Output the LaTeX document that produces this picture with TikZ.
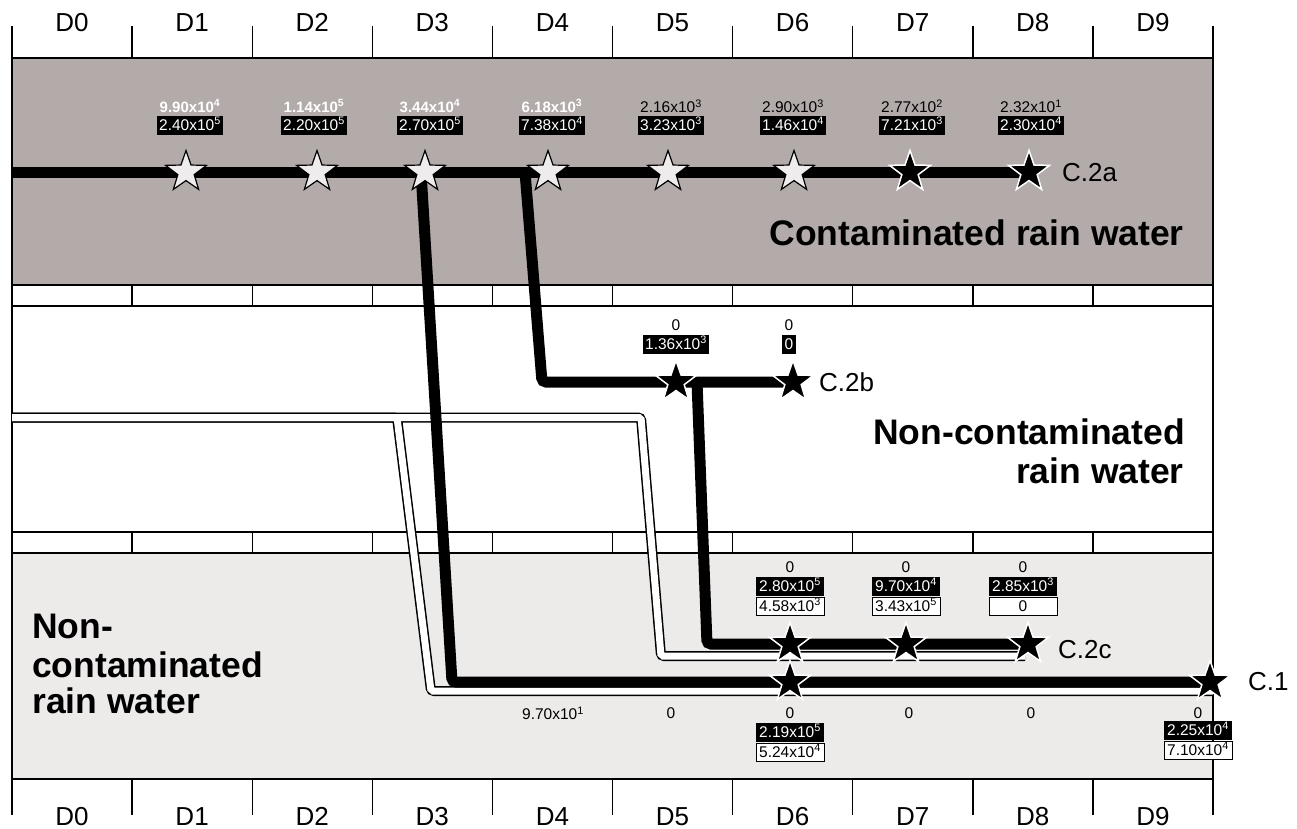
\documentclass[tikz,border=0pt]{standalone}
\usepackage{fontspec}
\setmainfont{Liberation Sans}
\usetikzlibrary{shapes.geometric}
\definecolor{topgray}{RGB}{178,171,169}
\definecolor{botgray}{RGB}{237,234,234}
\definecolor{starfill}{RGB}{238,236,236}
\newcommand\scin[2]{#1x10\textsuperscript{#2}}
\begin{document}
\begin{tikzpicture}[x=1pt,y=-1pt,
  band/.style={draw=black, line width=2.2pt},
  tick/.style={draw=black, line width=1.4pt},
  dlab/.style={font=\fontsize{26}{26}\selectfont, inner sep=0pt, anchor=base},
  big/.style={font=\bfseries\fontsize{35.5}{39}\selectfont, inner sep=0pt},
  flow/.style={draw=black, line width=11pt, rounded corners=4pt},
  dbout/.style={draw=black, line width=10pt, rounded corners=3pt},
  dbin/.style={draw=white, line width=7pt, rounded corners=2pt},
  lstar/.style={star, star points=5, star point ratio=2.5, minimum size=43pt, inner sep=0pt, fill=starfill, draw=black, line width=1.2pt},
  dstar/.style={star, star points=5, star point ratio=2.5, minimum size=43pt, inner sep=0pt, fill=black, draw=white, line width=1.5pt},
  numf/.style={font=\fontsize{15.5}{15.5}\selectfont, inner sep=0pt},
  btext/.style={inner sep=0pt, text=white, font=\bfseries\fontsize{15}{15}\selectfont},
  bbox/.style={font=\fontsize{15.5}{15.5}\selectfont, fill=black, text=white, inner xsep=2.5pt, inner ysep=2.5pt, text height=12pt, text depth=2pt},
  wbox/.style={font=\fontsize{15.5}{15.5}\selectfont, fill=white, draw=black, line width=1pt, text=black, inner xsep=2.5pt, inner ysep=2pt, text height=12pt, text depth=2pt},
  clab/.style={font=\fontsize{26}{26}\selectfont, inner sep=0pt, anchor=west},
]
\useasboundingbox (0,0) rectangle (1297,828);
% bands
\fill[topgray] (12,58) rectangle (1213,285);
\fill[botgray] (12,553) rectangle (1213,779);
\draw[band] (12,58) rectangle (1213,779);
\foreach \yy in {285,306,532,553} \draw[band] (12,\yy) -- (1213,\yy);
\foreach \i in {0,...,10} {
  \pgfmathsetmacro\xb{12+120.1*\i}
  \draw[tick] (\xb,26) -- (\xb,58);
  \draw[tick] (\xb,779) -- (\xb,815);
  \draw[tick] (\xb,285) -- (\xb,306);
  \draw[tick] (\xb,532) -- (\xb,553);
}
\foreach \i in {0,...,9} {
  \pgfmathsetmacro\xc{72+120.1*\i}
  \node[dlab] (top\i) at (\xc,31) {D\i};
  \node[dlab] (bot\i) at (\xc,825) {D\i};
}
% big texts
\node[big, anchor=base east] (ct) at (1184,245) {Contaminated rain water};
\node[big, anchor=base east] (nca) at (1185,444) {Non-contaminated};
\node[big, anchor=base east] (ncb) at (1184,483) {rain water};
\node[big, anchor=base west] (nla) at (32,638) {Non-};
\node[big, anchor=base west] (nlb) at (32,677) {contaminated};
\node[big, anchor=base west] (nlc) at (32,713) {rain water};
% coordinates
\coordinate (c2aS) at (12,172);
\coordinate (pa1) at (186,172);
\coordinate (pa2) at (317,172);
\coordinate (pa3) at (425,172);
\coordinate (pa4) at (548,172);
\coordinate (pa5) at (668,172);
\coordinate (pa6) at (794,172);
\coordinate (pa7) at (910,172);
\coordinate (pa8) at (1029,172);
\coordinate (j1) at (421,172);
\coordinate (k1) at (452,682);
\coordinate (pd1) at (790,682);
\coordinate (pd2) at (1210,682);
\coordinate (j2) at (525,172);
\coordinate (k2) at (542,382);
\coordinate (pb1) at (676,382);
\coordinate (pb2) at (793,382);
\coordinate (j3) at (697,382);
\coordinate (k3) at (707,644);
\coordinate (pc1) at (790,644);
\coordinate (pc2) at (906,644);
\coordinate (pc3) at (1028,644);
% double strips
\coordinate (sL) at (12,417.5);
\coordinate (sA1) at (641,417.5);
\coordinate (sA2) at (661,656);
\coordinate (sA3) at (1025,656);
\coordinate (sB1) at (397,417.5);
\coordinate (sB2) at (431,691);
\coordinate (sB3) at (1213,691);
\draw[dbout] (sL) -- (sA1) -- (sA2) -- (sA3);
\draw[dbout] (sL) -- (sB1) -- (sB2) -- (sB3);
\draw[dbin] (sL) -- (sA1) -- (sA2) -- (sA3);
\draw[dbin] (sL) -- (sB1) -- (sB2) -- (sB3);
% flows
\draw[flow] (c2aS) -- (pa8);
\draw[flow] (j1) -- (k1) -- (pd2);
\draw[flow] (j2) -- (k2) -- (pb2);
\draw[flow] (j3) -- (k3) -- (pc3);
% stars
\foreach \n in {1,...,6} \node[lstar] (a\n) at (pa\n) {};
\node[dstar] (a7) at (pa7) {};
\node[dstar] (a8) at (pa8) {};
\node[dstar] (b1) at (pb1) {};
\node[dstar] (b2) at (pb2) {};
\node[dstar] (c1) at (pc1) {};
\node[dstar] (c2) at (pc2) {};
\node[dstar] (c3) at (pc3) {};
\node[dstar] (d1) at (pd1) {};
\node[dstar] (d2) at (pd2) {};
% line labels
\node[clab] (l2a) at (1062,173) {C.2a};
\node[clab] (l2b) at (819,382) {C.2b};
\node[clab] (l2c) at (1058,650) {C.2c};
\node[clab] (l1) at (1248,682) {C.1};
% C.2a labels
\node[btext] (ta1) at (190,106) {\scin{9.90}{4}};
\node[bbox] (ba1) at (190,125) {\scin{2.40}{5}};
\node[btext] (ta2) at (314,106) {\scin{1.14}{5}};
\node[bbox] (ba2) at (314,125) {\scin{2.20}{5}};
\node[btext] (ta3) at (430,106) {\scin{3.44}{4}};
\node[bbox] (ba3) at (430,125) {\scin{2.70}{5}};
\node[btext] (ta4) at (552,106) {\scin{6.18}{3}};
\node[bbox] (ba4) at (552,125) {\scin{7.38}{4}};
\node[numf] (ta5) at (671,106) {\scin{2.16}{3}};
\node[bbox] (ba5) at (671,125) {\scin{3.23}{3}};
\node[numf] (ta6) at (793,106) {\scin{2.90}{3}};
\node[bbox] (ba6) at (793,125) {\scin{1.46}{4}};
\node[numf] (ta7) at (912,106) {\scin{2.77}{2}};
\node[bbox] (ba7) at (912,125) {\scin{7.21}{3}};
\node[numf] (ta8) at (1031,106) {\scin{2.32}{1}};
\node[bbox] (ba8) at (1031,125) {\scin{2.30}{4}};
% C.2b labels
\node[numf] (tb1) at (676,325) {0};
\node[bbox] (bb1) at (676,344) {\scin{1.36}{3}};
\node[numf] (tb2) at (789,325) {0};
\node[bbox] (bb2) at (789,344) {0};
% C.2c labels
\node[numf] (tc1) at (790,567) {0};
\node[bbox, minimum width=68pt] (bc1) at (790,586) {\scin{2.80}{5}};
\node[wbox, minimum width=68pt] (wc1) at (790,606) {\scin{4.58}{3}};
\node[numf] (tc2) at (906,567) {0};
\node[bbox, minimum width=68pt] (bc2) at (906,586) {\scin{9.70}{4}};
\node[wbox, minimum width=68pt] (wc2) at (906,606) {\scin{3.43}{5}};
\node[numf] (tc3) at (1023,567) {0};
\node[bbox, minimum width=68pt] (bc3) at (1023,586) {\scin{2.85}{3}};
\node[wbox, minimum width=68pt] (wc3) at (1023,606) {0};
% C.1 labels
\node[numf] (z0) at (553,713) {\scin{9.70}{1}};
\node[numf] (z1) at (671,713) {0};
\node[numf] (z2) at (790,713) {0};
\node[numf] (z3) at (909,713) {0};
\node[numf] (z4) at (1031,713) {0};
\node[numf] (z5) at (1198,713) {0};
\node[bbox, minimum width=68pt] (bd1) at (790,732) {\scin{2.19}{5}};
\node[wbox, minimum width=68pt] (wd1) at (790,752) {\scin{5.24}{4}};
\node[bbox, minimum width=68pt] (bd2) at (1198,730) {\scin{2.25}{4}};
\node[wbox, minimum width=68pt] (wd2) at (1198,750) {\scin{7.10}{4}};
\end{tikzpicture}
\end{document}
